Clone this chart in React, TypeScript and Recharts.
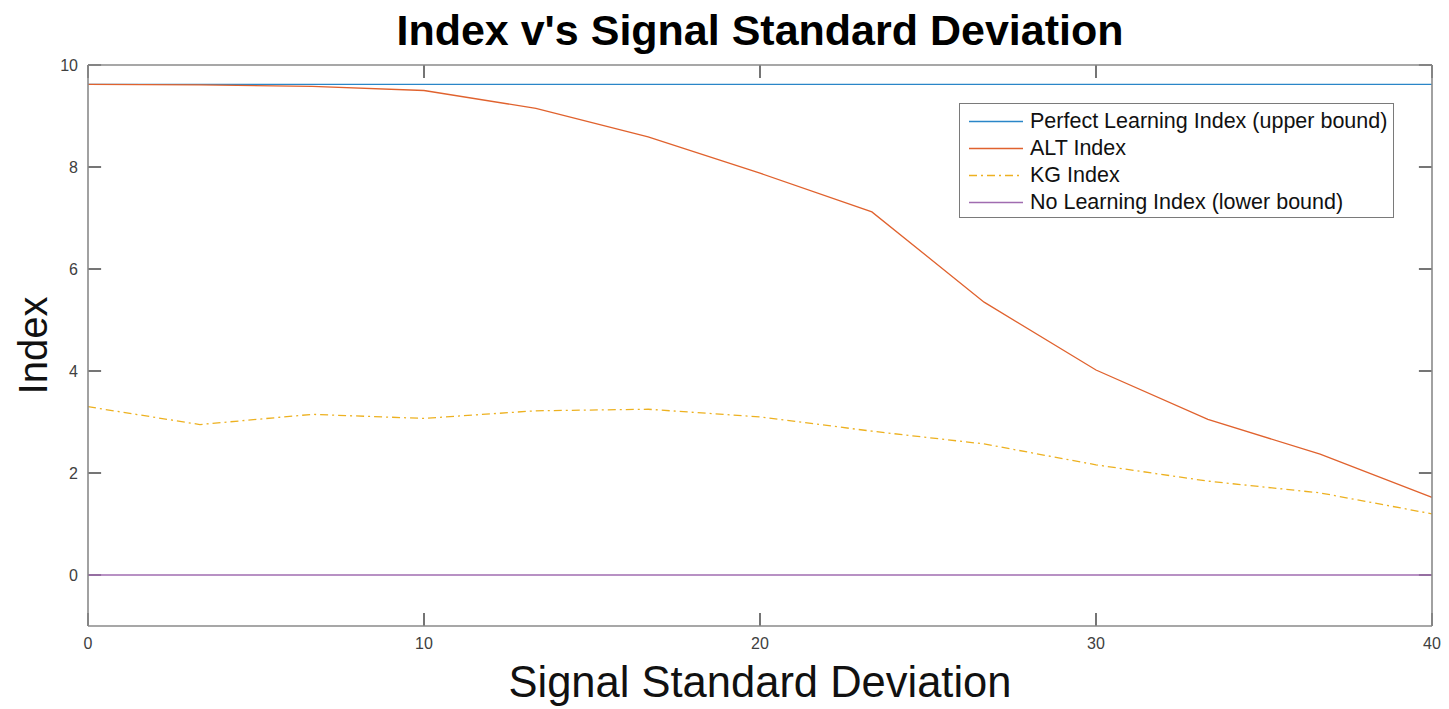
import React from "react";
import { LineChart, Line, XAxis, YAxis, Legend, Label, ReferenceLine } from "recharts";

// Signal standard deviation sample points
const sigma = [0, 3.33, 6.67, 10, 13.33, 16.67, 20, 23.33, 26.67, 30, 33.33, 36.67, 40];

// Index values per method
const perfectIndex = [9.62, 9.62, 9.62, 9.62, 9.62, 9.62, 9.62, 9.62, 9.62, 9.62, 9.62, 9.62, 9.62];
const altIndex = [9.62, 9.61, 9.58, 9.5, 9.15, 8.59, 7.88, 7.12, 5.35, 4.02, 3.05, 2.37, 1.52];
const kgIndex = [3.3, 2.95, 3.15, 3.07, 3.22, 3.25, 3.1, 2.82, 2.57, 2.16, 1.84, 1.61, 1.2];
const noLearningIndex = [0, 0, 0, 0, 0, 0, 0, 0, 0, 0, 0, 0, 0];

const xTicks = [0, 10, 20, 30, 40];
const yTicks = [0, 2, 4, 6, 8, 10];

const X_DOMAIN: [number, number] = [0, 40];
const Y_DOMAIN: [number, number] = [-1, 10];
// inward tick length (~13px) expressed in data units
const X_TICK_LEN = 0.39;
const Y_TICK_LEN = 0.255;

const data = sigma.map((s, i) => ({
  sigma: s,
  perfect: perfectIndex[i],
  alt: altIndex[i],
  kg: kgIndex[i],
  none: noLearningIndex[i],
}));

const series = [
  { key: "perfect", name: "Perfect Learning Index (upper bound)", color: "#2a86c8", dash: undefined as string | undefined },
  { key: "alt", name: "ALT Index", color: "#e0622e", dash: undefined as string | undefined },
  { key: "kg", name: "KG Index", color: "#EDB120", dash: "8 4 2 4" },
  { key: "none", name: "No Learning Index (lower bound)", color: "#a06cb0", dash: undefined as string | undefined },
];

const FONT = "'Liberation Sans', Arial, Helvetica, sans-serif";
const AXIS_COLOR = "#8a8a8a";
const TICK_COLOR = "#2a2a2a";
const LABEL_COLOR = "#404040";
const MARGIN = 10;

const W = 1449;
const H = 709;

const LeftTickLabel = (props: any) => (
  <text x={props.x} y={props.y} textAnchor="end" dominantBaseline="central" fill={LABEL_COLOR} fontSize={16} fontFamily={FONT}>
    {props.payload.value}
  </text>
);

const BottomTickLabel = (props: any) => (
  <text x={props.x} y={Number(props.y) + 2} textAnchor="middle" dominantBaseline="hanging" fill={LABEL_COLOR} fontSize={16} fontFamily={FONT}>
    {props.payload.value}
  </text>
);

const LegendBox = () => (
  <div
    style={{
      border: `1.5px solid #7a7a7a`,
      background: "#fff",
      width: 435,
      height: 115,
      boxSizing: "border-box",
      paddingTop: 4,
      fontFamily: FONT,
    }}
  >
    {series.map((s) => (
      <div key={s.key} style={{ display: "flex", alignItems: "center", height: 27 }}>
        <svg width={70} height={27} style={{ flex: "none" }}>
          <line x1={9} y1={13.5} x2={63} y2={13.5} stroke={s.color} strokeWidth={1.3} strokeDasharray={s.dash} />
        </svg>
        <span style={{ fontSize: 21.5, color: "#111", whiteSpace: "nowrap" }}>{s.name}</span>
      </div>
    ))}
  </div>
);

export default function App() {
  return (
    <div style={{ position: "absolute", left: 0, top: 0, width: W, height: H, background: "#fff" }}>
      <LineChart width={W} height={H} data={data} margin={{ top: 44, right: 0, bottom: 0, left: 0 }}>
        <XAxis
          xAxisId="bottom"
          dataKey="sigma"
          type="number"
          domain={X_DOMAIN}
          ticks={xTicks}
          orientation="bottom"
          height={83}
          stroke={AXIS_COLOR}
          strokeWidth={1.6}
          tickLine={false}
          tickSize={0}
          tickMargin={MARGIN}
          tick={<BottomTickLabel />}
          interval={0}
        >
          <Label
            content={(p: any) => {
              const cx = p.viewBox.x + p.viewBox.width / 2;
              return (
                <g>
                  <text x={cx} y={p.viewBox.y + 71} textAnchor="middle" fill="#111" fontSize={43.5} fontFamily={FONT}>
                    Signal Standard Deviation
                  </text>
                  <text x={cx} y={45} textAnchor="middle" fill="#000" fontSize={43} fontWeight="bold" fontFamily={FONT}>
                    Index v's Signal Standard Deviation
                  </text>
                </g>
              );
            }}
          />
        </XAxis>
        <XAxis
          xAxisId="top"
          type="number"
          domain={X_DOMAIN}
          orientation="top"
          height={21}
          stroke={AXIS_COLOR}
          strokeWidth={1.6}
          tick={false}
          tickLine={false}
        />
        <YAxis
          yAxisId="left"
          type="number"
          domain={Y_DOMAIN}
          ticks={yTicks}
          orientation="left"
          width={88}
          stroke={AXIS_COLOR}
          strokeWidth={1.6}
          tickLine={false}
          tickSize={0}
          tickMargin={MARGIN}
          tick={<LeftTickLabel />}
          interval={0}
        >
          <Label
            content={(p: any) => {
              const cx = 33;
              const cy = p.viewBox.y + p.viewBox.height / 2;
              return (
                <text
                  x={cx}
                  y={cy}
                  transform={`rotate(-90 ${cx} ${cy})`}
                  textAnchor="middle"
                  dominantBaseline="central"
                  fill="#111"
                  fontSize={40}
                  fontFamily={FONT}
                >
                  Index
                </text>
              );
            }}
          />
        </YAxis>
        <YAxis
          yAxisId="right"
          type="number"
          domain={Y_DOMAIN}
          orientation="right"
          width={17}
          stroke={AXIS_COLOR}
          strokeWidth={1.6}
          tick={false}
          tickLine={false}
        />
        <Legend
          layout="vertical"
          align="center"
          verticalAlign="middle"
          content={() => <LegendBox />}
          wrapperStyle={{ left: 959, top: 103, width: 435, height: 115 }}
        />

        {/* inward tick marks on the bottom and top edges */}
        {xTicks.map((t) => (
          <ReferenceLine
            key={`xb-${t}`}
            xAxisId="bottom"
            yAxisId="left"
            segment={[{ x: t, y: Y_DOMAIN[0] }, { x: t, y: Y_DOMAIN[0] + Y_TICK_LEN }]}
            stroke={TICK_COLOR}
            strokeWidth={1.3}
          />
        ))}
        {xTicks.map((t) => (
          <ReferenceLine
            key={`xt-${t}`}
            xAxisId="bottom"
            yAxisId="left"
            segment={[{ x: t, y: Y_DOMAIN[1] }, { x: t, y: Y_DOMAIN[1] - Y_TICK_LEN }]}
            stroke={TICK_COLOR}
            strokeWidth={1.3}
          />
        ))}
        {/* inward tick marks on the left and right edges */}
        {yTicks.map((t) => (
          <ReferenceLine
            key={`yl-${t}`}
            xAxisId="bottom"
            yAxisId="left"
            segment={[{ x: X_DOMAIN[0], y: t }, { x: X_DOMAIN[0] + X_TICK_LEN, y: t }]}
            stroke={TICK_COLOR}
            strokeWidth={1.3}
          />
        ))}
        {yTicks.map((t) => (
          <ReferenceLine
            key={`yr-${t}`}
            xAxisId="bottom"
            yAxisId="left"
            segment={[{ x: X_DOMAIN[1], y: t }, { x: X_DOMAIN[1] - X_TICK_LEN, y: t }]}
            stroke={TICK_COLOR}
            strokeWidth={1.3}
          />
        ))}

        {series.map((s) => (
          <Line
            key={s.key}
            xAxisId="bottom"
            yAxisId="left"
            type="linear"
            dataKey={s.key}
            name={s.name}
            stroke={s.color}
            strokeWidth={1.3}
            strokeDasharray={s.dash}
            dot={false}
            activeDot={false}
            isAnimationActive={false}
          />
        ))}
      </LineChart>
    </div>
  );
}
